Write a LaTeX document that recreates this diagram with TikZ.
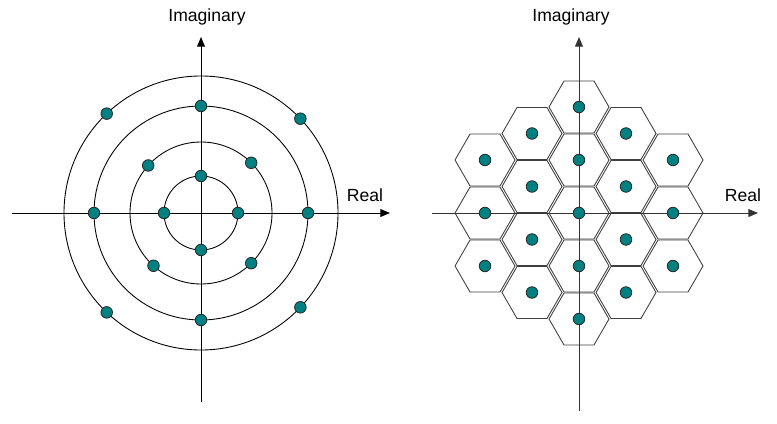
\documentclass[tikz,border=0pt]{standalone}
\usepackage{fontspec}
\setmainfont{Liberation Sans}
\usetikzlibrary{arrows.meta,shapes.geometric}
\definecolor{dotteal}{RGB}{0,128,128}

\tikzset{
  sym/.style={circle,draw=black!85,fill=dotteal,line width=0.45pt,inner sep=0pt,minimum size=6.6pt},
  hexcell/.style={regular polygon,regular polygon sides=6,draw=black!75,line width=0.5pt,
    inner sep=0pt,outer sep=0pt,minimum size=1.2cm},
  axlabel/.style={font=\fontsize{10}{12}\selectfont}
}

\begin{document}
\begin{tikzpicture}[x=0.02cm,y=0.02cm,>={Triangle[length=5.5pt,width=4.5pt]},line width=0.5pt]
\useasboundingbox (0,0) rectangle (777,423);

% --- concentric rings (left)
\coordinate (oL) at (201,210);
\foreach \r in {37,71,107,137}
  \draw (oL) circle (\r);
\coordinate (wL) at (12,210);
\coordinate (eL) at (390,210);
\coordinate (sL) at (201,21);
\coordinate (nL) at (201,386);
\draw[->] (wL) -- (eL);
\draw[->] (sL) -- (nL);
\node[axlabel] (imL) at (207,406) {Imaginary};
\node[axlabel] (reL) at (365,228) {Real};
\foreach \a/\r [count=\i] in {0/37,90/37,180/37,270/37,
    45/71,138/71,228/71,315/71,
    0/107,90/107,180/107,270/107,
    43.5/137,133.5/137,226.5/137,316.5/137}
  \node[sym] (ring\i) at ([shift={(\a:\r)}]oL) {};

% --- hexagonal cells (right)
\coordinate (oR) at (579,210);
\foreach \c/\r [count=\i] in {-2/-1,-2/0,-2/1,
    -1/-1.5,-1/-0.5,-1/0.5,-1/1.5,
    0/-2,0/-1,0/0,0/1,0/2,
    1/-1.5,1/-0.5,1/0.5,1/1.5,
    2/-1,2/0,2/1}
  \node[hexcell] (hex\i) at ([shift={(47*\c,53*\r)}]oR) {};
\coordinate (wR) at (432,210);
\coordinate (eR) at (758,210);
\coordinate (sR) at (579,12);
\coordinate (nR) at (579,386);
\draw[->,black!80] (wR) -- (eR);
\draw[->,black!80] (sR) -- (nR);
\node[axlabel] (imR) at (571,406) {Imaginary};
\node[axlabel] (reR) at (743,228) {Real};
\foreach \i in {1,...,19}
  \node[sym] at (hex\i.center) {};
\end{tikzpicture}
\end{document}
